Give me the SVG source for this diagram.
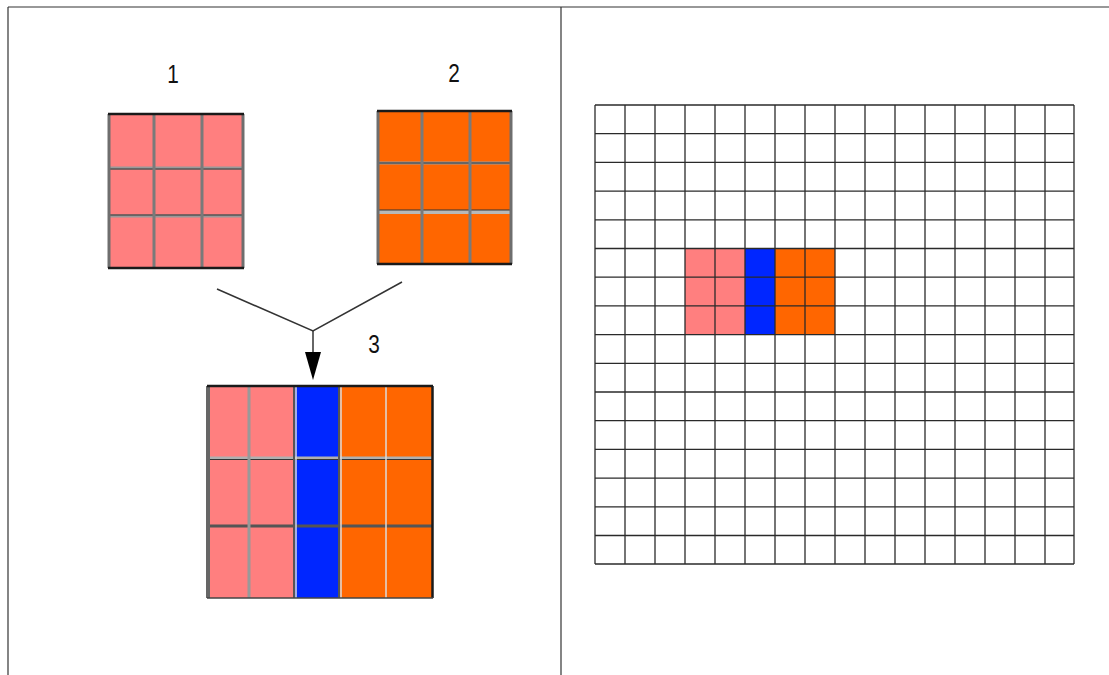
<svg xmlns="http://www.w3.org/2000/svg" width="1109" height="675" viewBox="0 0 1109 675">
<style>
.frame{stroke:#333;stroke-width:1.2;fill:none}
.lbl{font-family:"Liberation Sans",Arial,sans-serif;font-size:26px;fill:#111;text-anchor:middle}
.pink{fill:#ff7f7f}
.orange{fill:#ff6600}
.blue{fill:#0026ff}
.gv{stroke:#7a7a7a;stroke-width:3}
.gh{stroke:#9a9a9a;stroke-width:3}
.dk{stroke:#333;stroke-width:1}
.edge{stroke:#1a1a1a;stroke-width:2.5}
.side{stroke:#6e6e6e;stroke-width:3}
.wl{stroke:#ddd;stroke-width:1.5}
.grid line{stroke:#2a2a2a;stroke-width:1.3}
.conn{stroke:#333;stroke-width:1.5;fill:none}
</style>
<rect width="1109" height="675" fill="#fff"/>
<g id="frame">
<line class="frame" x1="8" y1="7" x2="1109" y2="7"/>
<line class="frame" x1="8" y1="7" x2="8" y2="675"/>
<line class="frame" x1="561" y1="7" x2="561" y2="675"/>
</g>
<g id="label1"><text class="lbl" transform="translate(173 83) scale(0.8 1)">1</text></g>
<g id="label2"><text class="lbl" transform="translate(454 82) scale(0.8 1)">2</text></g>
<g id="label3"><text class="lbl" transform="translate(374 353) scale(0.8 1)">3</text></g>
<g id="box1">
<rect class="pink" x="108" y="114" width="136" height="154"/>
<line class="gh" x1="108" y1="168" x2="244" y2="168"/>
<line class="dk" x1="108" y1="169" x2="244" y2="169"/>
<line class="gh" x1="108" y1="216" x2="244" y2="216"/>
<line class="dk" x1="108" y1="215" x2="244" y2="215"/>
<line class="gv" x1="154" y1="114" x2="154" y2="268"/>
<line class="gv" x1="202" y1="114" x2="202" y2="268"/>
<line class="side" x1="109" y1="114" x2="109" y2="268"/>
<line class="side" x1="243" y1="114" x2="243" y2="268"/>
<line class="edge" x1="108" y1="114" x2="244" y2="114"/>
<line class="edge" x1="108" y1="268" x2="244" y2="268"/>
</g>
<g id="box2">
<rect class="orange" x="377" y="111" width="135" height="153"/>
<line class="gh" x1="377" y1="163" x2="512" y2="163"/>
<line class="dk" x1="377" y1="163" x2="512" y2="163"/>
<line stroke="#b8b8b8" stroke-width="4" x1="377" y1="212" x2="512" y2="212"/>
<line class="dk" x1="377" y1="210" x2="512" y2="210"/>
<line class="gv" x1="422" y1="111" x2="422" y2="264"/>
<line class="gv" x1="470" y1="111" x2="470" y2="264"/>
<line class="side" x1="378" y1="111" x2="378" y2="264"/>
<line class="side" x1="511" y1="111" x2="511" y2="264"/>
<line class="edge" x1="377" y1="111" x2="512" y2="111" stroke-width="1.5"/>
<line class="edge" x1="377" y1="264" x2="512" y2="264"/>
</g>
<g id="connectors">
<polyline class="conn" points="217,289 313,331 402,282"/>
<line class="conn" x1="313" y1="331" x2="313" y2="354"/>
<polygon points="305,352 321,352 313,380" fill="#000"/>
</g>
<g id="box3">
<rect class="pink" x="207" y="386" width="87" height="212"/>
<rect class="blue" x="294" y="386" width="45" height="212"/>
<rect class="orange" x="339" y="386" width="94" height="212"/>
<line stroke="#b0b0b0" stroke-width="3" x1="207" y1="458" x2="433" y2="458"/>
<line class="dk" x1="207" y1="459.5" x2="433" y2="459.5"/>
<line stroke="#555" stroke-width="3" x1="207" y1="526" x2="433" y2="526"/>
<line stroke="#999" stroke-width="3" x1="249" y1="386" x2="249" y2="598"/>
<line stroke="#555" stroke-width="2" x1="294" y1="386" x2="294" y2="598"/>
<line class="wl" x1="296" y1="386" x2="296" y2="598"/>
<line stroke="#555" stroke-width="2" x1="339" y1="386" x2="339" y2="598"/>
<line class="wl" x1="341" y1="386" x2="341" y2="598"/>
<line class="wl" x1="386" y1="386" x2="386" y2="598"/>
<line stroke="#666" stroke-width="4" x1="208" y1="386" x2="208" y2="598"/>
<line class="edge" x1="207" y1="386" x2="433" y2="386" stroke-width="1.5"/>
<line class="edge" x1="432.5" y1="386" x2="432.5" y2="598" stroke-width="2"/>
<line stroke="#444" stroke-width="1.5" x1="207" y1="598" x2="433" y2="598"/>
</g>
<g id="grid">
<rect class="pink" x="685" y="249" width="60" height="86"/>
<rect class="blue" x="745" y="249" width="30" height="86"/>
<rect class="orange" x="775" y="249" width="60" height="86"/>
<g class="grid">
<line x1="595" y1="105" x2="595" y2="564"/><line x1="625" y1="105" x2="625" y2="564"/><line x1="655" y1="105" x2="655" y2="564"/><line x1="685" y1="105" x2="685" y2="564"/><line x1="715" y1="105" x2="715" y2="564"/><line x1="745" y1="105" x2="745" y2="564"/><line x1="775" y1="105" x2="775" y2="564"/><line x1="805" y1="105" x2="805" y2="564"/><line x1="835" y1="105" x2="835" y2="564"/><line x1="865" y1="105" x2="865" y2="564"/><line x1="895" y1="105" x2="895" y2="564"/><line x1="925" y1="105" x2="925" y2="564"/><line x1="955" y1="105" x2="955" y2="564"/><line x1="985" y1="105" x2="985" y2="564"/><line x1="1015" y1="105" x2="1015" y2="564"/><line x1="1045" y1="105" x2="1045" y2="564"/><line x1="1074" y1="105" x2="1074" y2="564"/>
<line x1="595" y1="105" x2="1074" y2="105"/><line x1="595" y1="133.7" x2="1074" y2="133.7"/><line x1="595" y1="162.4" x2="1074" y2="162.4"/><line x1="595" y1="191.1" x2="1074" y2="191.1"/><line x1="595" y1="219.8" x2="1074" y2="219.8"/><line x1="595" y1="248.5" x2="1074" y2="248.5"/><line x1="595" y1="277.2" x2="1074" y2="277.2"/><line x1="595" y1="305.9" x2="1074" y2="305.9"/><line x1="595" y1="334.6" x2="1074" y2="334.6"/><line x1="595" y1="363.3" x2="1074" y2="363.3"/><line x1="595" y1="392" x2="1074" y2="392"/><line x1="595" y1="420.7" x2="1074" y2="420.7"/><line x1="595" y1="449.4" x2="1074" y2="449.4"/><line x1="595" y1="478.1" x2="1074" y2="478.1"/><line x1="595" y1="506.8" x2="1074" y2="506.8"/><line x1="595" y1="535.5" x2="1074" y2="535.5"/><line x1="595" y1="564" x2="1074" y2="564"/>
</g>
</g>
</svg>
